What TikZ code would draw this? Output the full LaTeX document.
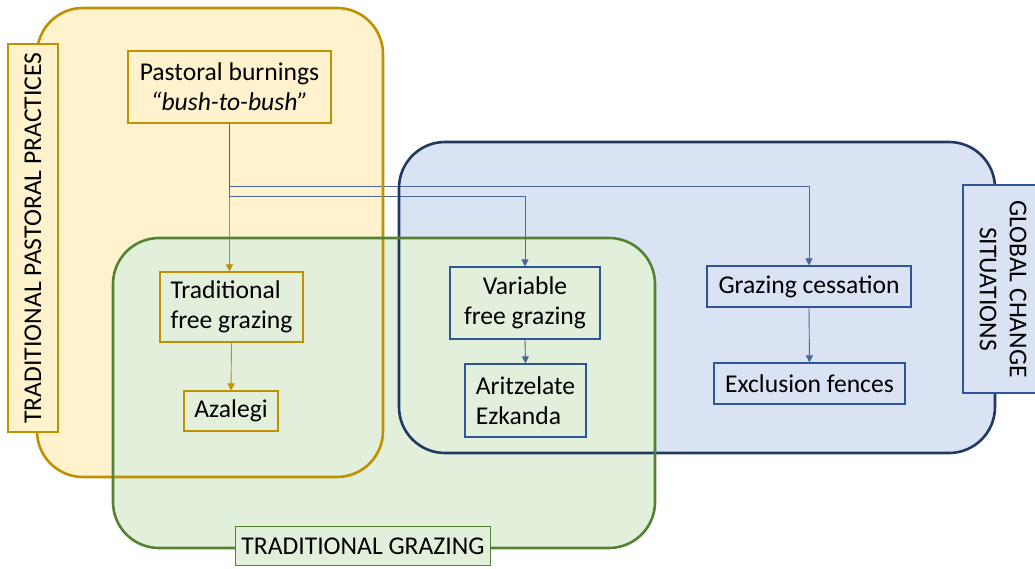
\documentclass[tikz,border=0pt]{standalone}
\usepackage{fontspec}
\setmainfont{Carlito}
\usetikzlibrary{arrows.meta}
\definecolor{yelF}{HTML}{FFF2CC}
\definecolor{yelB}{HTML}{BF9000}
\definecolor{grnF}{HTML}{E2EFDA}
\definecolor{grnB}{HTML}{548235}
\definecolor{bluF}{HTML}{DAE3F3}
\definecolor{bluB}{HTML}{203864}
\definecolor{bluL}{HTML}{2F5597}
\definecolor{bluA}{HTML}{4A679A}
\pgfdeclarelayer{bg}
\pgfdeclarelayer{mid}
\pgfsetlayers{bg,mid,main}
\tikzset{
  region/.style={rounded corners=46pt, inner sep=0pt, outer sep=0pt},
  regionline/.style={line width=2.6pt, rounded corners=46pt},
  inbox/.style={draw, line width=1.1pt, inner sep=0pt, align=center, text=black},
  lab/.style={draw, line width=1.4pt, inner sep=0pt, align=center, text=black},
  yarrow/.style={draw=yelB, line width=0.9pt, -{Triangle[length=7pt,width=7pt]}},
  barrow/.style={draw=bluA, line width=0.9pt, -{Triangle[length=7pt,width=7pt]}},
}
\begin{document}
\begin{tikzpicture}[x=1pt, y=-1pt, font=\fontsize{25.6}{30}\selectfont]
\useasboundingbox (0,0) rectangle (1035,569);
% regions (fills)
\begin{pgfonlayer}{bg}
\node[region, fill=yelF, minimum width=346pt, minimum height=469pt] (ppr) at (210,242.5) {};
\node[region, fill=bluF, minimum width=596pt, minimum height=311pt] (gcr) at (697,297.5) {};
\node[region, fill=grnF, minimum width=542pt, minimum height=310pt] (tgr) at (384,393) {};
\end{pgfonlayer}
% region borders
\draw[regionline, draw=yelB] (ppr.north west) rectangle (ppr.south east);
\draw[regionline, draw=bluB] (gcr.north west) rectangle (gcr.south east);
\draw[regionline, draw=grnB] (tgr.north west) rectangle (tgr.south east);
% labels
\node[lab, draw=yelB, fill=yelF, rotate=90, minimum width=388pt, minimum height=50pt] (tpp) at (33,238) {TRADITIONAL PASTORAL PRACTICES};
\node[lab, draw=bluL, fill=bluF, rotate=-90, minimum width=208pt, minimum height=80pt] (gcs) at (1003,289) {GLOBAL CHANGE\\SITUATIONS};
\node[lab, draw=grnB, fill=grnF, minimum width=255pt, minimum height=39pt] (tg) at (363,546) {TRADITIONAL GRAZING};
% inner boxes
\node[inbox, draw=yelB, minimum width=203pt, minimum height=72pt] (pb) at (229.5,87) {Pastoral burnings\\\textit{“bush-to-bush”}};
\node[inbox, draw=yelB, minimum width=143pt, minimum height=70pt, align=left] (tfg) at (231.5,307) {Traditional\\free grazing};
\node[inbox, draw=yelB, minimum width=94pt, minimum height=40pt] (az) at (231,411) {Azalegi};
\node[inbox, draw=bluL, minimum width=150pt, minimum height=72pt] (vfg) at (525,303) {Variable\\free grazing};
\node[inbox, draw=bluL, minimum width=121pt, minimum height=73pt, align=left] (ae) at (525.5,400.5) {Aritzelate\\Ezkanda};
\node[inbox, draw=bluL, minimum width=204pt, minimum height=41pt] (gc) at (809,286.5) {Grazing cessation};
\node[inbox, draw=bluL, minimum width=191pt, minimum height=41pt] (ef) at (809.5,383.5) {Exclusion fences};
% connectors
\begin{pgfonlayer}{mid}
\path (pb.south) ++(0,63) coordinate (j1);
\path (pb.south) ++(0,73) coordinate (j2);
\draw[yarrow] (pb.south) -- (pb.south |- tfg.north);
\draw[barrow] (pb.south) -- (j1) -| (gc.north);
\draw[barrow] (pb.south) -- (j2) -| (vfg.north);
\end{pgfonlayer}
\draw[yarrow] (tfg.south) -- (az.north);
\draw[barrow] (vfg.south) -- (ae.north);
\draw[barrow] (gc.south) -- (ef.north);
\end{tikzpicture}
\end{document}
